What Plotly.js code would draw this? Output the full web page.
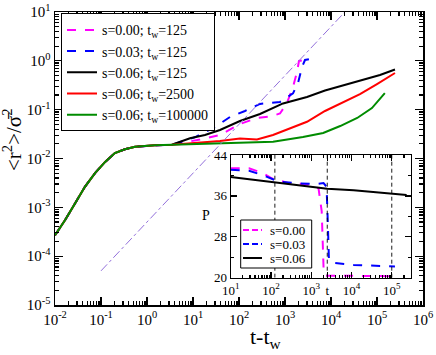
<!DOCTYPE html>
<html><head><meta charset="utf-8">
<script src="https://cdn.plot.ly/plotly-3.0.1.min.js"></script>
<style>html,body{margin:0;padding:0;background:#fff}#chart{width:436px;height:355px}</style>
</head><body><div id="chart"></div>
<script>
// ---- main panel: mean squared displacement vs t - t_w ----
const tEarly   = [0.01, 0.0166, 0.0272, 0.0447, 0.0741, 0.123, 0.2, 0.331, 0.55, 0.912, 1.48, 3.47];
const msdEarly = [2.69e-4, 5.5e-4, 1.2e-3, 2.63e-3, 5.01e-3, 8.51e-3, 0.0129, 0.0155, 0.0174, 0.0182, 0.0186, 0.0191];

const tS000   = [14.2, 38.6, 105, 246, 472, 778, 1104, 1493, 1824, 2014, 3491];
const msdS000 = [0.0245, 0.0303, 0.0508, 0.0675, 0.0724, 0.0834, 0.137, 0.291, 0.590, 0.993, 1.09];

const tS003   = [11.0, 30.1, 63.7, 135, 286, 778, 1493, 1919, 2344, 2723, 3491];
const msdS003 = [0.0272, 0.0441, 0.0708, 0.094, 0.131, 0.144, 0.216, 0.352, 0.748, 1.04, 1.09];

const tS006a   = [8.6, 18.2, 38.6, 105, 286, 906, 3006, 7413, 36730, 116100, 246000];
const msdS006a = [0.0259, 0.0303, 0.0383, 0.0586, 0.0815, 0.134, 0.182, 0.247, 0.386, 0.513, 0.664];

const tS006b   = [8.6, 38.6, 105, 246, 548, 1285, 3006, 7413, 20140, 42660, 100000, 246000];
const msdS006b = [0.0203, 0.0228, 0.0256, 0.0245, 0.0303, 0.0421, 0.0566, 0.094, 0.150, 0.209, 0.335, 0.564];

const tS006c   = [14.2, 105, 550, 2455, 6760, 15850, 37150, 77600, 148000];
const msdS006c = [0.0198, 0.0205, 0.0221, 0.0275, 0.0333, 0.0462, 0.0675, 0.108, 0.219];

const refLineT   = [0.1, 20000];
const refLineMsd = [5e-5, 10];

const seriesNames = ['s=0.00; t<sub>w</sub>=125', 's=0.03; t<sub>w</sub>=125', 's=0.06; t<sub>w</sub>=125',
                     's=0.06; t<sub>w</sub>=2500', 's=0.06; t<sub>w</sub>=100000'];

const xTickVals = [0.01, 0.1, 1, 10, 100, 1000, 10000, 100000, 1000000];
const xTickText = ['10<sup>-2</sup>', '10<sup>-1</sup>', '10<sup>0</sup>', '10<sup>1</sup>', '10<sup>2</sup>',
                   '10<sup>3</sup>', '10<sup>4</sup>', '10<sup>5</sup>', '10<sup>6</sup>'];
const yTickVals = [1e-5, 1e-4, 1e-3, 1e-2, 1e-1, 1, 10];
const yTickText = ['10<sup>-5</sup>', '10<sup>-4</sup>', '10<sup>-3</sup>', '10<sup>-2</sup>', '10<sup>-1</sup>',
                   '10<sup>0</sup>', '10<sup>1</sup>'];

// ---- inset: P vs t ----
const tInsetS000 = [10, 28.5, 60.7, 107, 276, 712, 1260, 1515, 1820, 2040, 2290, 120000];
const pInsetS000 = [41.4, 41.4, 40.5, 39.4, 38.5, 38.3, 37.8, 37.5, 33, 21, 20.4, 20.3];
const tInsetS003 = [10, 28.5, 60.7, 157, 405, 1260, 2020, 2400, 2600, 2750, 3570, 11300, 120000];
const pInsetS003 = [41.1, 40.9, 40.1, 38.8, 38.5, 38.3, 38.5, 37.8, 30, 23.5, 22.9, 22.5, 22.2];
const tInsetS006 = [10, 107, 1000, 2500, 11300, 75600, 234000];
const pInsetS006 = [39.7, 38.7, 37.8, 37.4, 37.1, 36.6, 36.2];
const insetNames = ['s=0.00', 's=0.03', 's=0.06'];
const waitingTimes = [125, 2500, 100000];
const insetTickVals = [10, 100, 1000, 2500, 10000, 100000];
const insetTickText = ['10<sup>1</sup>', '10<sup>2</sup>', '10<sup>3</sup>', 't', '10<sup>4</sup>', '10<sup>5</sup>'];
const insetYTickVals = [20, 28, 36, 44];

const FONT = 'Liberation Serif, Times New Roman, serif';
function minorLog(d0, d1) { const v = []; for (let d = d0; d < d1; d++) for (let k = 2; k <= 9; k++) v.push(k * Math.pow(10, d)); return v; }

const traces = [
  {x: tEarly.concat(tS000), y: msdEarly.concat(msdS000), name: seriesNames[0], mode: 'lines', line: {color: '#ff00ff', width: 2, dash: 'dash'}},
  {x: tEarly.concat(tS003), y: msdEarly.concat(msdS003), name: seriesNames[1], mode: 'lines', line: {color: '#0000ff', width: 2, dash: 'dash'}},
  {x: tEarly.concat(tS006a), y: msdEarly.concat(msdS006a), name: seriesNames[2], mode: 'lines', line: {color: '#000000', width: 2}},
  {x: tEarly.concat(tS006b), y: msdEarly.concat(msdS006b), name: seriesNames[3], mode: 'lines', line: {color: '#ff0000', width: 2}},
  {x: tEarly.concat(tS006c), y: msdEarly.concat(msdS006c), name: seriesNames[4], mode: 'lines', line: {color: '#008c00', width: 2}},
  {x: refLineT, y: refLineMsd, mode: 'lines', showlegend: false, line: {color: '#9370db', width: 1, dash: 'dashdot'}},
  {x: tInsetS000, y: pInsetS000, xaxis: 'x2', yaxis: 'y2', name: insetNames[0], showlegend: false, mode: 'lines', line: {color: '#ff00ff', width: 2, dash: 'dash'}},
  {x: tInsetS003, y: pInsetS003, xaxis: 'x2', yaxis: 'y2', name: insetNames[1], showlegend: false, mode: 'lines', line: {color: '#0000ff', width: 2, dash: 'dash'}},
  {x: tInsetS006, y: pInsetS006, xaxis: 'x2', yaxis: 'y2', name: insetNames[2], showlegend: false, mode: 'lines', line: {color: '#000000', width: 2}}
];

const axBase = {showline: true, linecolor: '#000', linewidth: 1.5, mirror: 'allticks', ticks: 'inside',
  tickcolor: '#000', tickwidth: 1.2, showgrid: false, zeroline: false, tickmode: 'array'};

const L = 55, R = 13, T = 12, B = 50, W = 436 - L - R, H = 355 - T - B;
const px = p => (p - L) / W, py = p => (355 - B - p) / H;

const shapes = waitingTimes.map(tw => ({type: 'line', xref: 'x2', yref: 'y2', x0: tw, x1: tw, y0: 20, y1: 44,
  line: {color: '#000', width: 0.9, dash: '4px,3px'}}));
shapes.push({type: 'rect', xref: 'paper', yref: 'paper', x0: px(240.7), x1: px(311.7), y0: py(268), y1: py(220),
  line: {color: '#000', width: 1}, fillcolor: '#fff', layer: 'above'});
const legCols = ['#ff00ff', '#0000ff', '#000000'], legDash = ['dash', 'dash', 'solid'], legY = [230, 244, 258];
const annotations = [];
legY.forEach((yy, i) => {
  shapes.push({type: 'line', xref: 'paper', yref: 'paper', x0: px(243), x1: px(262), y0: py(yy), y1: py(yy),
    line: {color: legCols[i], width: 2, dash: legDash[i] === 'dash' ? '6px,3px' : 'solid'}, layer: 'above'});
  annotations.push({xref: 'paper', yref: 'paper', x: px(268), y: py(yy), xanchor: 'left', yanchor: 'middle',
    text: insetNames[i], showarrow: false, font: {family: FONT, size: 13, color: '#000'}});
});
annotations.push({xref: 'paper', yref: 'paper', x: px(12), y: py(140), textangle: -90, xanchor: 'center', yanchor: 'middle',
  text: '<r<sup>2</sup>>/σ̄<sup>2</sup>', showarrow: false, font: {family: FONT, size: 21, color: '#000'}});
annotations.push({xref: 'paper', yref: 'paper', x: px(266), y: py(322), xanchor: 'center', yanchor: 'top',
  text: 't-t<sub>w</sub>', showarrow: false, font: {family: FONT, size: 22, color: '#000'}});
annotations.push({xref: 'paper', yref: 'paper', x: px(206), y: py(215), xanchor: 'center', yanchor: 'middle',
  text: 'P', showarrow: false, font: {family: FONT, size: 14, color: '#000'}});

const layout = {
  width: 436, height: 355, margin: {l: L, r: R, t: T, b: B},
  paper_bgcolor: '#fff', plot_bgcolor: '#fff', font: {family: FONT, color: '#000'},
  xaxis: Object.assign({}, axBase, {type: 'log', range: [-2, 6], tickvals: xTickVals, ticktext: xTickText, ticklen: 8,
    tickfont: {family: FONT, size: 15}, minor: {tickmode: 'array', tickvals: minorLog(-2, 6), ticks: 'inside', ticklen: 4, tickcolor: '#000'}}),
  yaxis: Object.assign({}, axBase, {type: 'log', range: [-5, 1], tickvals: yTickVals, ticktext: yTickText, ticklen: 8,
    tickfont: {family: FONT, size: 15}, minor: {tickmode: 'array', tickvals: minorLog(-5, 1), ticks: 'inside', ticklen: 4, tickcolor: '#000'}}),
  xaxis2: Object.assign({}, axBase, {type: 'log', range: [1, 5.47], domain: [px(230.7), px(410.7)], anchor: 'y2',
    tickvals: insetTickVals, ticktext: insetTickText, ticklen: 6, linewidth: 1.2,
    tickfont: {family: FONT, size: 13}, minor: {tickmode: 'array', tickvals: minorLog(1, 6), ticks: 'inside', ticklen: 3, tickcolor: '#000'}}),
  yaxis2: Object.assign({}, axBase, {range: [20, 44], domain: [py(277.7), py(155)], anchor: 'x2',
    tickvals: insetYTickVals, ticklen: 6, linewidth: 1.2,
    tickfont: {family: FONT, size: 13}, minor: {tickmode: 'linear', tick0: 20, dtick: 4, ticks: 'inside', ticklen: 3, tickcolor: '#000'}}),
  legend: {x: px(61), y: py(13.3), xanchor: 'left', yanchor: 'top', bgcolor: '#fff', bordercolor: '#000', borderwidth: 1,
    font: {family: FONT, size: 14, color: '#000'}, tracegroupgap: 0},
  shapes: shapes, annotations: annotations
};

Plotly.newPlot('chart', traces, layout, {staticPlot: true, displayModeBar: false});
</script></body></html>
